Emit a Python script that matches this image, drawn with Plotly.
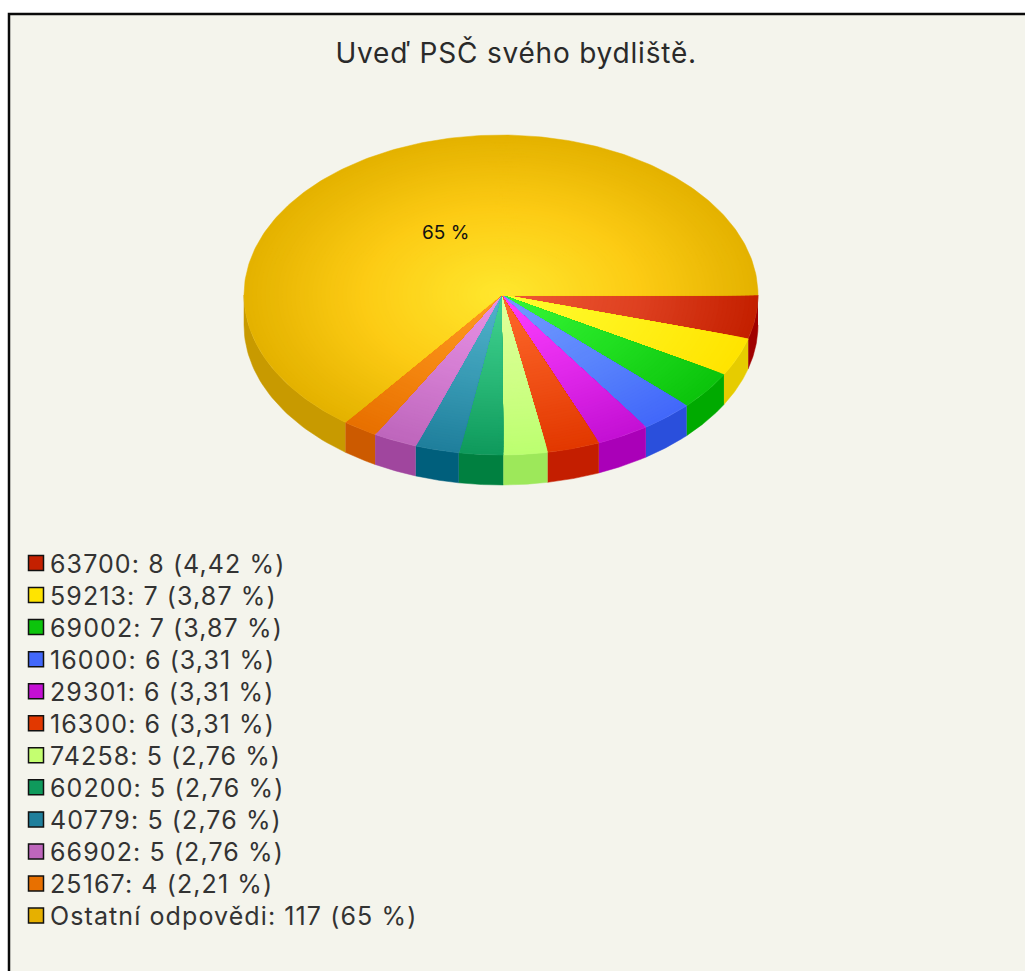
import numpy as np
import plotly.graph_objects as go

# ---------------------------- DONNEES ----------------------------- #
title = "Uveď PSČ svého bydliště."
codes = ["63700", "59213", "69002", "16000", "29301", "16300",
         "74258", "60200", "40779", "66902", "25167", "Ostatní odpovědi"]
counts = [8, 7, 7, 6, 6, 6, 5, 5, 5, 5, 4, 117]
shares = ["4,42", "3,87", "3,87", "3,31", "3,31", "3,31",
          "2,76", "2,76", "2,76", "2,76", "2,21", "65"]

# couleurs : centre, milieu du rayon, bord, tranche, legende
inner_colors = ["#f05a35", "#ffff30", "#38f838", "#739dff", "#ff40ff", "#ff6a2c",
                "#e2ff9c", "#42d492", "#52b4cc", "#e892e6", "#ff9c22", "#ffe82e"]
mid_colors = ["#de4020", "#fff018", "#20de20", "#5a84fc", "#e028ea", "#f05016",
              "#cfff86", "#28b776", "#389ab4", "#d37cd1", "#f48610", "#fccb14"]
outer_colors = ["#c42000", "#ffe400", "#0cc40c", "#4268fa", "#c410d4", "#e23800",
                "#bcff70", "#0f9a5c", "#1f7f9c", "#be66bc", "#e87000", "#e4b200"]
side_colors = ["#a00000", "#e6cc00", "#00aa00", "#2a4fdc", "#aa00b8", "#c41e00",
               "#9de85a", "#008040", "#005f7c", "#a0469e", "#cc5a00", "#c89a00"]
legend_colors = ["#c42000", "#ffe400", "#0cc40c", "#4268fa", "#c410d4", "#e23800",
                 "#c4ff70", "#0f9a5c", "#1f7f9c", "#be66bc", "#e87000", "#e6b000"]

CX, CY, RX, RY, DEPTH = 501, 295, 257, 160, 30
N_RINGS = 60
FONT = "Inter, Liberation Sans, sans-serif"


def mix(c1, c2, t):
    a = [int(c1[i:i + 2], 16) for i in (1, 3, 5)]
    b = [int(c2[i:i + 2], 16) for i in (1, 3, 5)]
    return "rgb(%d,%d,%d)" % tuple(round(u + (v - u) * t) for u, v in zip(a, b))


def ring_color(i, f):
    # degrade a trois arrets : centre -> milieu -> bord
    if f < 0.55:
        return mix(inner_colors[i], mid_colors[i], f / 0.55)
    return mix(mid_colors[i], outer_colors[i], (f - 0.55) / 0.45)


def polygon(fig, x, y, color):
    fig.add_trace(go.Scatter(x=x, y=y, mode="lines", fill="toself", fillcolor=color,
                             line=dict(color=color, width=0.5), hoverinfo="skip",
                             showlegend=False))


fig = go.Figure()

# Angles des parts, dans le sens horaire a partir de la droite
edges = np.cumsum([0] + counts) / sum(counts) * 2 * np.pi

# Flanc du camembert (partie avant seulement)
for i in range(len(counts)):
    start, stop = edges[i], min(edges[i + 1], np.pi)
    if start >= np.pi:
        continue
    t = np.linspace(start, stop, 40)
    x = CX + RX * np.cos(t)
    y = CY + RY * np.sin(t)
    polygon(fig, np.r_[x, x[::-1]], np.r_[y, y[::-1] + DEPTH], side_colors[i])

# Dessus : anneaux concentriques pour imiter le degrade radial
for i in range(len(counts)):
    t = np.linspace(edges[i], edges[i + 1], max(6, int((edges[i + 1] - edges[i]) * 60)))
    for k in range(N_RINGS, 0, -1):
        f = k / N_RINGS
        polygon(fig, np.r_[CX, CX + f * RX * np.cos(t), CX],
                np.r_[CY, CY + f * RY * np.sin(t), CY], ring_color(i, f))

# Legende
legend_y = 563 + 32.05 * np.arange(len(codes))
legend_text = [f"{c}: {n} ({s} %)" for c, n, s in zip(codes, counts, shares)]
fig.add_trace(go.Scatter(
    x=[36] * len(codes), y=legend_y, mode="markers",
    marker=dict(symbol="square", size=15, color=legend_colors, line=dict(color="#111111", width=1.5)),
    hoverinfo="skip", showlegend=False))
fig.add_trace(go.Scatter(
    x=[50] * len(codes), y=legend_y + 3.5, mode="text",
    text=legend_text, textposition="middle right",
    textfont=dict(family=FONT, size=25, color="#333333"),
    hoverinfo="skip", showlegend=False))

fig.add_annotation(x=445, y=232, text="65 %", showarrow=False,
                   font=dict(family=FONT, size=19, color="#111111"))
fig.add_annotation(x=343, y=53, text=title, showarrow=False, xanchor="left",
                   font=dict(family=FONT, size=28, color="#2a2a2a"))

fig.update_layout(
    width=1025, height=971,
    margin=dict(l=0, r=0, t=0, b=0),
    paper_bgcolor="white", plot_bgcolor="white",
    showlegend=False,
    xaxis=dict(range=[0, 1025], visible=False, fixedrange=True),
    yaxis=dict(range=[971, 0], visible=False, fixedrange=True),
    shapes=[dict(type="rect", xref="x", yref="y", x0=9, y0=14, x1=1040, y1=990,
                 line=dict(color="#0a0a0a", width=2.5), fillcolor="#f4f4ec", layer="below")],
)

# Le texte de l'original est plus espace : petit letter-spacing apres le rendu
post = """
document.body.style.margin='0';document.body.style.overflow='hidden';
document.querySelectorAll('.textpoint text').forEach(t=>t.style.letterSpacing='1.1px');
document.querySelectorAll('.annotation-text').forEach(t=>{
  if (t.textContent.length>10) t.style.letterSpacing='0.8px';
});
"""
fig.write_html("out.html", config={"displayModeBar": False}, post_script=post)
